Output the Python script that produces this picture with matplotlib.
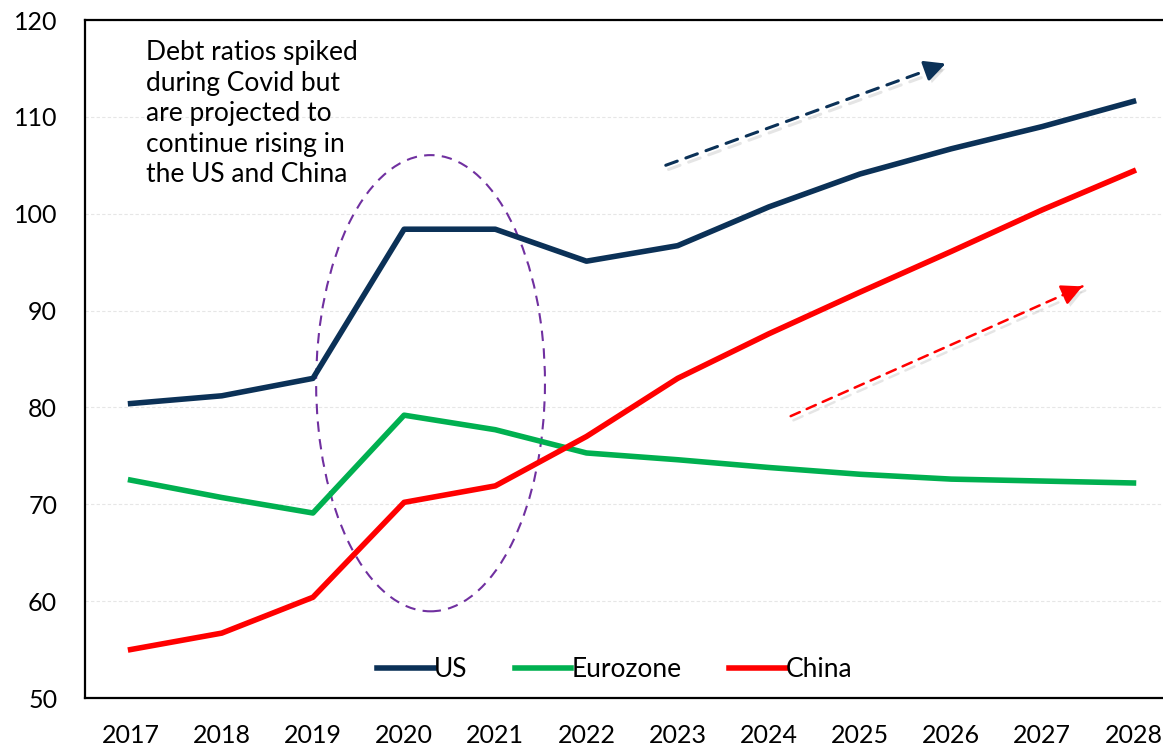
import matplotlib.pyplot as plt
import matplotlib.patheffects as pe
from matplotlib.patches import Ellipse

years = ['2017', '2018', '2019', '2020', '2021', '2022', '2023', '2024', '2025', '2026', '2027', '2028']
us = [80.4, 81.2, 83.0, 98.4, 98.4, 95.1, 96.7, 100.7, 104.1, 106.7, 109.0, 111.6]
eurozone = [72.5, 70.7, 69.1, 79.2, 77.7, 75.3, 74.6, 73.8, 73.1, 72.6, 72.4, 72.2]
china = [55.0, 56.7, 60.4, 70.2, 71.9, 77.0, 83.0, 87.6, 91.9, 96.1, 100.4, 104.4]

note = "Debt ratios spiked\nduring Covid but\nare projected to\ncontinue rising in\nthe US and China"

navy = '#0B3157'
green = '#00B050'
red = '#FF0000'

plt.rcParams['font.family'] = ['Lato', 'DejaVu Sans']

fig = plt.figure(figsize=(11.63, 7.52), dpi=100)
ax = fig.add_axes([0.0731, 0.0718, 0.9407, 0.9016])

x = list(range(len(years)))
ax.plot(x, us, color=navy, lw=4, label='US')
ax.plot(x, eurozone, color=green, lw=4, label='Eurozone')
ax.plot(x, china, color=red, lw=4, label='China')

ax.set_xlim(-0.5, 11.5)
ax.set_ylim(50, 120)
ax.set_yticks(range(50, 121, 10))
ax.set_xticks(x)
ax.set_xticklabels(years)
ax.grid(axis='y', color='#e6e6e6', lw=0.8, ls=(0, (3, 2)))
ax.set_axisbelow(True)
ax.tick_params(length=0, labelsize=18)
ax.tick_params(axis='x', pad=19)
ax.tick_params(axis='y', pad=20)
for s in ['left', 'top', 'bottom']:
    ax.spines[s].set_linewidth(1.6)
    ax.spines[s].set_color('black')
ax.spines['right'].set_visible(False)

shadow = [pe.SimpleLineShadow(offset=(2, -3), shadow_color='#aaaaaa', alpha=0.3), pe.Normal()]
head_shadow = [pe.SimplePatchShadow(offset=(2, -3), shadow_rgbFace='#aaaaaa', alpha=0.3), pe.Normal()]

# covid ellipse
ell = Ellipse((3.29, 82.5), 2.51, 47.1, fill=False, ec='#7030A0', lw=1.5, ls=(0, (5, 3.5)))
ax.add_patch(ell)

# trend arrows: dashed shaft plus solid head
def trend_arrow(x0, y0, x1, y1, color, lw):
    ax.annotate('', xy=(x1, y1), xytext=(x0, y0),
                arrowprops=dict(arrowstyle='-', color=color, lw=lw, ls=(0, (4, 3)),
                                shrinkA=0, shrinkB=0, path_effects=shadow))
    ax.annotate('', xy=(x1, y1), xytext=(x1 - (x1 - x0) * 0.06, y1 - (y1 - y0) * 0.06),
                arrowprops=dict(arrowstyle='-|>,head_length=0.9,head_width=0.45', color=color,
                                lw=lw, mutation_scale=14, shrinkA=0, shrinkB=0,
                                path_effects=head_shadow))

trend_arrow(5.87, 105.0, 8.94, 115.5, navy, 2.2)
trend_arrow(7.24, 79.1, 10.44, 92.5, red, 1.8)

ax.text(0.17, 117.9, note, fontsize=19, va='top', ha='left', linespacing=1.27)

leg = ax.legend(loc='lower center', bbox_to_anchor=(0.484, -0.012), ncol=3, frameon=False,
                handlelength=2.15, handletextpad=0.0, columnspacing=1.8,
                prop={'size': 19})

fig.savefig('out.png', dpi=100)
